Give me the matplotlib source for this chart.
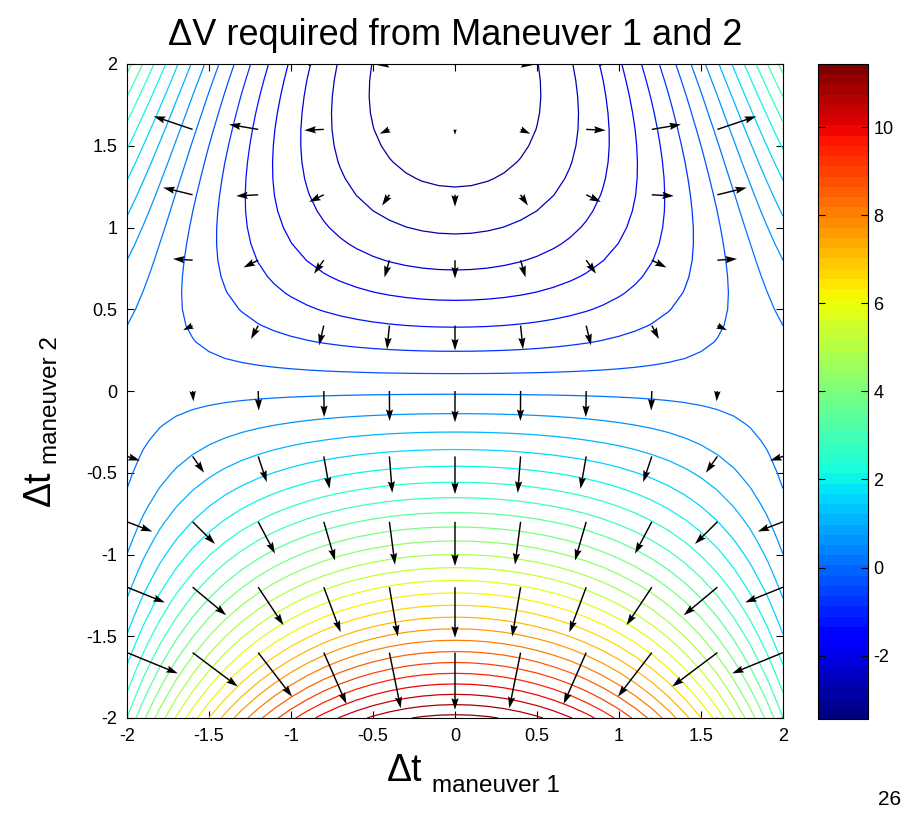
import numpy as np
import matplotlib
matplotlib.use("Agg")
import matplotlib.pyplot as plt
from matplotlib import cm, colors

plt.rcParams['font.family'] = ['Liberation Sans', 'DejaVu Sans']
plt.rcParams['axes.unicode_minus'] = False

# ---- data: model surface of Delta-V ----
dt1_range = [-2.0, 2.0]
dt2_range = [-2.0, 2.0]
contour_step = 0.1          # grid spacing of the contoured surface
quiver_step = 0.4           # grid spacing of the gradient arrows
dv_min = -3.44              # minimum Delta-V (colorbar bottom)
curv_y = 0.958              # curvature along dt2
dt2_at_min = 1.94           # dt2 of the minimum
cross_coef = [-0.03, 0.97, -0.034]   # dt1^2 * (c0 + c1*dt2 + c2*dt2^2)
n_levels = 32
level_step = 0.46
cbar_ticks = [-2, 0, 2, 4, 6, 8, 10]
axis_ticks = [-2, -1.5, -1, -0.5, 0, 0.5, 1, 1.5, 2]
tick_labels = ['-2', '-1.5', '-1', '-0.5', '0', '0.5', '1', '1.5', '2']


def delta_v(x, y):
    return (dv_min + curv_y * (y - dt2_at_min) ** 2
            + x ** 2 * (cross_coef[0] + cross_coef[1] * y + cross_coef[2] * y ** 2))


xs = np.arange(dt1_range[0], dt1_range[1] + 1e-9, contour_step)
ys = np.arange(dt2_range[0], dt2_range[1] + 1e-9, contour_step)
X, Y = np.meshgrid(xs, ys)
Z = delta_v(X, Y)

xq = np.arange(dt1_range[0], dt1_range[1] + 1e-9, quiver_step)
yq = np.arange(dt2_range[0], dt2_range[1] + 1e-9, quiver_step)
XQ, YQ = np.meshgrid(xq, yq)
ZQ = delta_v(XQ, YQ)
DY, DX = np.gradient(ZQ, quiver_step, quiver_step)

zmin, zmax = Z.min(), Z.max()
levels = zmin + level_step * np.arange(1, n_levels + 1)
levels = levels[levels < zmax]

W, H = 902, 819
fig = plt.figure(figsize=(W / 100, H / 100), dpi=100)
fig.patch.set_facecolor('white')

ax = fig.add_axes([127 / W, 1 - 718 / H, 656 / W, 654 / H])
jet = matplotlib.colormaps['jet'].resampled(64)
norm = colors.Normalize(vmin=zmin, vmax=zmax)
ax.contour(X, Y, Z, levels=levels, cmap=jet, norm=norm, linewidths=0.9)
ax.quiver(XQ, YQ, DX, DY, angles='xy', scale_units='xy', scale=19.4,
          color='black', width=0.0022, headwidth=5, headlength=8,
          headaxislength=7, zorder=3)
ax.set_xlim(dt1_range)
ax.set_ylim(dt2_range)
ax.set_xticks(axis_ticks)
ax.set_xticklabels(tick_labels)
ax.set_yticks(axis_ticks)
ax.set_yticklabels(tick_labels)
ax.tick_params(direction='in', length=5, width=0.8, top=True, right=True,
               labelsize=13, pad=7)
for s in ax.spines.values():
    s.set_linewidth(0.8)

ax.set_title('\u0394V required from Maneuver 1 and 2', fontsize=26, pad=14)

# axis labels (TeX-like subscript)
fig.text(387 / W, 1 - 781 / H, '\u0394t', fontsize=27, ha='left', va='baseline')
fig.text(432 / W, 1 - 792 / H, 'maneuver 1', fontsize=17.5, ha='left', va='baseline')
fig.text(22 / W, 1 - 506 / H, '\u0394t', fontsize=27, rotation=90,
         ha='left', va='bottom')
fig.text(40 / W, 1 - 464 / H, 'maneuver 2', fontsize=17.5, rotation=90,
         ha='left', va='bottom')

# colorbar
cax = fig.add_axes([818 / W, 1 - 719 / H, 50 / W, 655 / H])
sm = cm.ScalarMappable(norm=norm, cmap=jet)
cb = fig.colorbar(sm, cax=cax, ticks=cbar_ticks)
cb.outline.set_linewidth(0.8)
cax.tick_params(direction='in', length=5, width=0.8, left=True, right=True,
                labelsize=13, pad=4)

# slide page number
fig.text(878 / W, 1 - 805 / H, '26', fontsize=15, ha='left', va='baseline')

fig.savefig('out.png', dpi=100, facecolor='white')
